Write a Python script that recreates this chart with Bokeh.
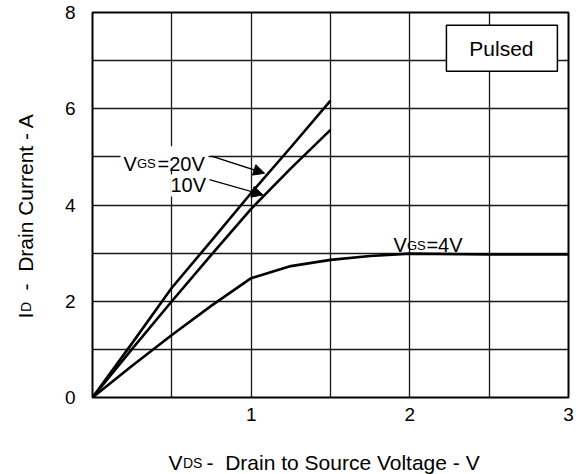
import math
from bokeh.plotting import figure
from bokeh.models import (Label, Arrow, NormalHead, BoxAnnotation, FixedTicker,
                          Range1d, ColumnDataSource)
from bokeh.core.properties import value
from bokeh.embed import file_html
from bokeh.resources import INLINE

# ---- data ----
vds_20v = [0, 0.25, 0.5, 0.75, 1.0, 1.25, 1.5]
id_20v = [0, 1.13, 2.28, 3.26, 4.25, 5.20, 6.17]

vds_10v = [0, 0.25, 0.5, 0.75, 1.0, 1.25, 1.5]
id_10v = [0, 1.01, 2.00, 2.97, 3.92, 4.76, 5.56]

vds_4v = [0, 0.25, 0.5, 0.75, 1.0, 1.25, 1.5, 1.75, 2.0, 2.5, 3.0]
id_4v = [0, 0.66, 1.30, 1.91, 2.48, 2.73, 2.86, 2.94, 2.99, 2.97, 2.97]

x_ticks = [1, 2, 3]
y_ticks = [0, 2, 4, 6, 8]
x_grid = [0.5, 1.0, 1.5, 2.0, 2.5]
y_grid = [1, 2, 3, 4, 5, 6, 7]

FONT = "Liberation Sans"
NB = "\u00a0"

# frame geometry (pixels)
FL, FR, FT, FB = 92, 568, 12, 397

# reference-pixel -> data helpers (for annotation text inside the plot)
def rx(px):
    return (px - 92) / 158.7

def ry(py):
    return (399 - py) / 49.25

# own-pixel -> data helpers (for the axis titles outside the frame)
def ox(px):
    return (px - FL) / (FR - FL) * 3

def oy(py):
    return (FB - py) / (FB - FT) * 8

p = figure(width=576, height=474, x_range=Range1d(0, 3), y_range=Range1d(0, 8),
           output_backend="svg", toolbar_location=None,
           min_border_left=FL, min_border_right=576 - FR,
           min_border_top=FT, min_border_bottom=474 - FB)

p.background_fill_color = "white"
p.border_fill_color = "white"
p.outline_line_color = "black"
p.outline_line_width = 2

for ax in (p.xaxis[0], p.yaxis[0]):
    ax.axis_line_color = None
    ax.major_tick_line_color = None
    ax.minor_tick_line_color = None
    ax.major_label_text_font = FONT
    ax.major_label_text_font_size = "19px"
    ax.major_label_text_color = "black"

p.xaxis.ticker = FixedTicker(ticks=x_ticks)
p.yaxis.ticker = FixedTicker(ticks=y_ticks)
p.xaxis.major_label_standoff = 4
p.yaxis.major_label_standoff = 11

p.xgrid.ticker = FixedTicker(ticks=x_grid)
p.ygrid.ticker = FixedTicker(ticks=y_grid)
for g in (p.xgrid[0], p.ygrid[0]):
    g.grid_line_color = "black"
    g.grid_line_width = 1.3
    g.grid_line_alpha = 0.9

# ---- curves ----
for xs, ys in ((vds_20v, id_20v), (vds_10v, id_10v), (vds_4v, id_4v)):
    p.line(xs, ys, line_color="black", line_width=2.6)

# ---- "Pulsed" box ----
p.add_layout(BoxAnnotation(left=rx(446), right=rx(557), top=ry(18), bottom=ry(65),
                           fill_color="white", fill_alpha=1.0,
                           line_color="black", line_width=1.5, line_alpha=1.0))

# white backing behind the VGS=20V annotation (hides the grid line)
p.add_layout(BoxAnnotation(left=rx(120), right=rx(208), top=ry(142), bottom=ry(164),
                           fill_color="white", fill_alpha=1.0, line_color=None))


def txt(x, y, text, size, align="left", baseline="alphabetic", bg=None):
    p.add_layout(Label(x=x, y=y, text=text, text_font=FONT,
                       text_font_size=f"{size}px", text_color="black",
                       text_align=align, text_baseline=baseline,
                       background_fill_color=bg))

txt(rx(501), ry(42), "Pulsed", 21, align="center", baseline="middle")

# ---- curve annotations ----
txt(rx(123), ry(160), "V", 20)
txt(rx(136.5), ry(160), "GS", 13)
txt(rx(157), ry(160), "=20V", 20)
txt(rx(170), ry(182), "10V", 20, bg="white")
txt(rx(393), ry(243), "V", 20)
txt(rx(406.5), ry(243), "GS", 13)
txt(rx(426), ry(243), "=4V", 20)

for xs, ys, xe, ye in ((rx(211), ry(152), 1.085, 4.66),
                       (rx(209), ry(176), 1.075, 4.21)):
    p.add_layout(Arrow(end=NormalHead(size=11, fill_color="black", line_color="black"),
                       x_start=xs, y_start=ys, x_end=xe, y_end=ye,
                       line_color="black", line_width=1.3))

# ---- axis titles (text glyphs drawn at overlay level, outside the frame) ----
half_pi = math.pi / 2
title_src = ColumnDataSource(dict(
    x=[ox(168), ox(182.5), ox(206), ox(25), ox(25), ox(25)],
    y=[oy(462), oy(462), oy(462), oy(318), oy(311.5), oy(290)],
    text=["V", "DS", "-" + NB + " Drain to Source Voltage - V",
          "I", "D", "-" + NB + " Drain Current - A"],
    size=["21px", "14px", "21px", "21px", "14px", "21px"],
    angle=[0, 0, 0, half_pi, half_pi, half_pi],
))
p.text(x="x", y="y", text="text", angle="angle", text_font_size="size",
       text_font=value(FONT), text_color="black", text_align="left",
       text_baseline="alphabetic", source=title_src, level="overlay")

open("out.html", "w").write(file_html(p, INLINE))
